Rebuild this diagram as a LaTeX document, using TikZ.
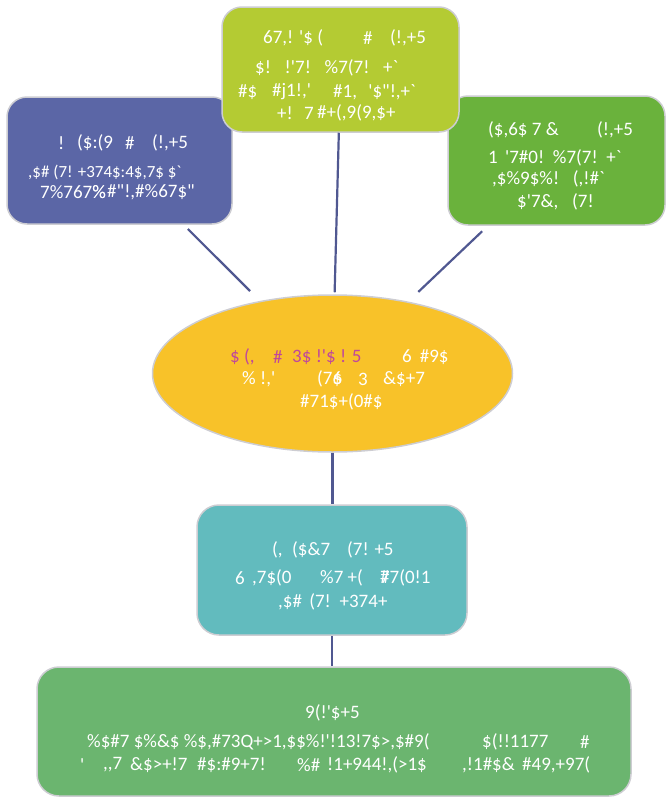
\documentclass[tikz,border=0pt]{standalone}
\usepackage{fontspec}
\newfontfamily\cf{Carlito}
\usetikzlibrary{shapes.geometric}
\definecolor{cLime}{RGB}{180,203,51}
\definecolor{cBlue}{RGB}{91,102,166}
\definecolor{cGreenR}{RGB}{106,178,60}
\definecolor{cYellow}{RGB}{248,194,41}
\definecolor{cTeal}{RGB}{98,187,190}
\definecolor{cGreenB}{RGB}{107,181,111}
\definecolor{cMag}{RGB}{192,72,155}
\definecolor{cLine}{RGB}{80,88,145}
\definecolor{cEdge}{RGB}{205,205,210}
\tikzset{
  box/.style={rectangle, rounded corners=20pt, draw=cEdge, line width=1.5pt, inner sep=0pt},
  oval/.style={ellipse, draw=cEdge, line width=1.5pt, inner sep=0pt, fill=cYellow},
  txt/.style={anchor=west, inner sep=0pt, text=white, font=\cf\fontsize{19}{22}\selectfont},
  conn/.style={draw=cLine, line width=2.2pt}
}
\begin{document}
\begin{tikzpicture}[x=1pt,y=-1pt]
\useasboundingbox (0,0) rectangle (667,798);
% shapes
\node[box, fill=cBlue, minimum width=225pt, minimum height=127pt] (lb) at (119.5,160.5) {};
\node[box, fill=cGreenR, minimum width=217pt, minimum height=129pt] (rb) at (556.5,160.5) {};
\node[box, fill=cLime, minimum width=237pt, minimum height=125pt] (tb) at (340.5,69.5) {};
\node[oval, minimum width=360pt, minimum height=157pt] (ell) at (332.5,373.5) {};
\node[box, fill=cTeal, minimum width=270pt, minimum height=130pt, rounded corners=22pt] (mb) at (332,570) {};
\node[box, fill=cGreenB, minimum width=594pt, minimum height=129pt, rounded corners=22pt] (bb) at (334,731.5) {};
% connectors
\draw[conn, shorten <=6pt, shorten >=14pt] (lb) -- (ell);
\draw[conn, shorten <=8pt, shorten >=14pt] (rb) -- (ell);
\draw[conn, shorten >=2pt] (tb) -- (ell);
\draw[conn] (ell.south) -- (ell.south |- mb.north);
\draw[conn] (mb.south) -- (mb.south |- bb.north);
% top box text
\node[txt] (t1a) at (263,38) {67,! '\$ (};
\node[txt] (t1b) at (363,38) {\#};
\node[txt] (t1c) at (390,38) {(!,+5};
\node[txt] (t2a) at (255,68) {\$!\hspace{8pt} !'7!\hspace{8pt} \%7(7!\hspace{8pt} +`};
\node[txt] (t3a) at (238,92) {\#\$};
\node[txt] (t3b) at (272,92) {\#j1!,'};
\node[txt] (t3c) at (333,92) {\#1,\hspace{7pt} '\$"!,+`};
\node[txt] (t4a) at (277,113) {+!};
\node[txt] (t4b) at (304,113) {7};
\node[txt] (t4c) at (317,113) {\#+(,9(9,\$+};
% left box text
\node[txt] (l1a) at (58,143) {!};
\node[txt] (l1b) at (77,143) {(\$:(9};
\node[txt] (l1c) at (125,143) {\#};
\node[txt] (l1d) at (152,143) {(!,+5};
\node[txt, font=\cf\fontsize{17}{20}\selectfont] (l2a) at (28,172) {,\$\# (7! +374\$:4\$,7\$ \$`};
\node[txt] (l3a) at (40,192) {7\%767\rlap{\%}\%};
\node[txt] (l3b) at (107,192) {\#"!,\#\%67\$"};
% right box text
\node[txt] (r1a) at (488,130) {(\$,6\$ 7 \&};
\node[txt] (r1b) at (597,130) {(!,+5};
\node[txt] (r2a) at (488,158) {1\hspace{3pt} '7\#0!\hspace{3pt} \%7(7!\hspace{3pt} +`};
\node[txt] (r3a) at (492,179) {,\$\%9\$\%!\hspace{8pt} (,!\#`};
\node[txt] (r4a) at (517,202) {\$'7\&,};
\node[txt] (r4b) at (572,202) {(7!};
% ellipse text
\node[txt, text=cMag] (e1a) at (230,357) {\$ (,};
\node[txt, text=cMag] (e1b) at (273,357) {\#};
\node[txt, text=cMag] (e1c) at (292,357) {3\$ !'\$ ! 5};
\node[txt] (e1d) at (402,357) {6\hspace{8pt}\#9\$};
\node[txt] (e2a) at (242,379) {\% !,'};
\node[txt] (e2b) at (317,379) {(7\rlap{6}\$};
\node[txt] (e2c) at (358,379) {3};
\node[txt] (e2d) at (383,379) {\&\$+7};
\node[txt] (e3a) at (300,402) {\#71\$+(0\#\$};
% teal box text
\node[txt] (m1a) at (272,550) {(,};
\node[txt] (m1b) at (292,550) {(\$\&7};
\node[txt] (m1c) at (347,550) {(7! +5};
\node[txt] (m2a) at (235,578) {6};
\node[txt] (m2b) at (252,578) {,7\$(0};
\node[txt] (m2c) at (320,578) {\%7 +(};
\node[txt] (m2d) at (380,578) {\rlap{7}\#7(0!1};
\node[txt] (m3a) at (278,602) {,\$\#\hspace{3pt} (7!\hspace{3pt} +374+};
% bottom box text
\node[txt] (b1a) at (305,713) {9(!'\$+5};
\node[txt] (b2a) at (87,742) {\%\$\#7 \$\%\&\$ \%\$,\#73Q+>1,\$\$\%!'!13!7\$>,\$\#9(};
\node[txt] (b2b) at (482,742) {\$(!!1177};
\node[txt] (b2c) at (580,742) {\#};
\node[txt] (b3a) at (80,765) {'};
\node[txt] (b3b) at (103,765) {,,7};
\node[txt] (b3c) at (130,765) {\&\$>+!7};
\node[txt] (b3d) at (197,765) {\#\$:\#9+7!};
\node[txt] (b3e) at (297,765) {\%\#};
\node[txt] (b3f) at (327,765) {!1+944!,(>1\$};
\node[txt] (b3g) at (462,765) {,!1\#\$\&};
\node[txt] (b3h) at (522,765) {\#49,+97(};
\end{tikzpicture}
\end{document}
